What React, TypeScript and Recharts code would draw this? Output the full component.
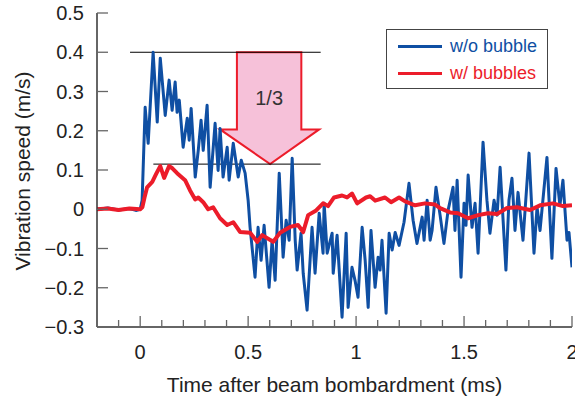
import React from 'react';
import { LineChart, Line, XAxis, YAxis, ReferenceLine, ReferenceArea, Label } from 'recharts';

// time (ms), vibration speed (m/s)
const withoutBubble: [number, number][] = [
  [-0.2, 0], [-0.15, 0.003], [-0.1, -0.002], [-0.05, 0.002], [-0.02, -0.003], [0, 0],
  [0.009, 0.023], [0.023, 0.26], [0.037, 0.168], [0.06, 0.4], [0.079, 0.222], [0.093, 0.385],
  [0.116, 0.239], [0.134, 0.329], [0.148, 0.252], [0.162, 0.324], [0.171, 0.247], [0.181, 0.278],
  [0.199, 0.158], [0.218, 0.232], [0.227, 0.176], [0.236, 0.257], [0.255, 0.082], [0.269, 0.15],
  [0.282, 0.227], [0.292, 0.15], [0.31, 0.265], [0.324, 0.056], [0.347, 0.219], [0.361, 0.099],
  [0.37, 0.206], [0.384, 0.082], [0.403, 0.158], [0.412, 0.074], [0.431, 0.168], [0.454, 0.082],
  [0.468, 0.125], [0.486, 0.092], [0.5, 0.023], [0.509, -0.046], [0.532, -0.173], [0.546, -0.046],
  [0.56, -0.13], [0.574, -0.041], [0.597, -0.199], [0.611, -0.079], [0.625, -0.181], [0.644, 0.092],
  [0.662, -0.122], [0.676, -0.028], [0.69, -0.079], [0.704, 0.13], [0.718, -0.079], [0.727, -0.155],
  [0.745, -0.061], [0.755, -0.163], [0.773, -0.257], [0.796, -0.046], [0.81, -0.163], [0.829, -0.01],
  [0.847, -0.112], [0.852, 0.015], [0.866, -0.112], [0.889, -0.061], [0.894, -0.163], [0.912, -0.066],
  [0.935, -0.275], [0.954, -0.061], [0.963, -0.25], [0.981, -0.148], [0.995, -0.181], [1.009, -0.224],
  [1.028, -0.046], [1.042, -0.13], [1.056, -0.25], [1.069, -0.054], [1.088, -0.199], [1.102, -0.122],
  [1.111, -0.155], [1.12, -0.079], [1.139, -0.265], [1.153, -0.061], [1.167, -0.104], [1.181, -0.059],
  [1.199, -0.092], [1.222, -0.033], [1.245, 0.066], [1.264, -0.028], [1.282, -0.087], [1.306, -0.02],
  [1.315, -0.079], [1.329, 0.023], [1.343, -0.079], [1.352, -0.054], [1.37, 0.056], [1.389, -0.015],
  [1.407, -0.087], [1.426, -0.003], [1.449, 0.056], [1.458, -0.054], [1.468, 0.074], [1.486, -0.173],
  [1.5, 0.015], [1.509, -0.041], [1.519, 0.087], [1.537, -0.046], [1.551, 0.015], [1.565, -0.112],
  [1.588, 0.171], [1.606, 0.023], [1.62, -0.061], [1.639, 0.023], [1.653, -0.015], [1.667, 0.107],
  [1.694, -0.155], [1.708, 0.023], [1.722, 0.079], [1.736, -0.054], [1.75, 0.043], [1.773, -0.079],
  [1.801, 0.143], [1.824, -0.112], [1.838, 0.005], [1.852, -0.054], [1.884, 0.132], [1.907, -0.125],
  [1.926, 0.104], [1.944, 0.01], [1.958, 0.074], [1.977, -0.079], [1.986, -0.059], [2.0, -0.148],
];

const withBubbles: [number, number][] = [
  [-0.2, 0], [-0.15, 0.002], [-0.1, -0.002], [-0.05, 0.002], [0, 0], [0.01, 0.005],
  [0.02, 0.03], [0.032, 0.056], [0.056, 0.07], [0.074, 0.09], [0.093, 0.11], [0.111, 0.08],
  [0.134, 0.11], [0.148, 0.105], [0.171, 0.092], [0.208, 0.074], [0.231, 0.048], [0.255, 0.025],
  [0.269, 0.03], [0.292, 0.018], [0.315, 0.0], [0.338, 0.005], [0.37, -0.023], [0.403, -0.04],
  [0.431, -0.033], [0.463, -0.058], [0.509, -0.06], [0.542, -0.083], [0.565, -0.066], [0.616, -0.083],
  [0.648, -0.06], [0.694, -0.045], [0.731, -0.04], [0.755, -0.058], [0.778, -0.015], [0.815, -0.003],
  [0.847, 0.015], [0.87, 0.008], [0.898, 0.03], [0.935, 0.035], [0.958, 0.03], [0.981, 0.04],
  [1.005, 0.015], [1.046, 0.03], [1.065, 0.033], [1.088, 0.022], [1.134, 0.03], [1.162, 0.018],
  [1.199, 0.03], [1.227, 0.02], [1.273, 0.01], [1.319, 0.015], [1.366, 0.012], [1.389, 0.003],
  [1.435, -0.008], [1.472, -0.01], [1.519, -0.023], [1.565, -0.015], [1.611, -0.01], [1.653, -0.012],
  [1.699, 0.003], [1.745, 0.005], [1.806, -0.002], [1.852, 0.01], [1.912, 0.015], [1.958, 0.008],
  [2.0, 0.01],
];

const timeTicks = [-0.2, -0.1, 0, 0.1, 0.2, 0.3, 0.4, 0.5, 0.6, 0.7, 0.8, 0.9, 1, 1.1, 1.2, 1.3, 1.4, 1.5, 1.6, 1.7, 1.8, 1.9, 2];
const labelledTimeTicks = [0, 0.5, 1, 1.5, 2];
const speedTicks = [-0.3, -0.2, -0.1, 0, 0.1, 0.2, 0.3, 0.4, 0.5];

// peak level lines and the "1/3" arrow, in data units
const peakLevels = [
  { y: 0.4, from: -0.047, to: 0.836 },
  { y: 0.115, from: 0.061, to: 0.836 },
];
const arrowBox = { x1: 0.37, x2: 0.829, y1: 0.115, y2: 0.4, text: '1/3' };

const series = [
  { name: 'w/o bubble', color: '#0f4fa3', width: 3, data: withoutBubble },
  { name: 'w/ bubbles', color: '#ec1c2a', width: 4, data: withBubbles },
];

const FONT = '"Liberation Sans", Arial, sans-serif';
const AXIS = '#333';
const TICK = '#666';

const fmtSpeed = (v: number) => (Math.abs(v) < 1e-9 ? '0' : v < 0 ? '\u2212' + Math.abs(v).toFixed(1) : v.toFixed(1));
const isMajor = (v: number) => labelledTimeTicks.some((m) => Math.abs(m - v) < 1e-6);

const BottomTick = (p: any) => {
  const v = p.payload.value;
  const major = isMajor(v);
  return (
    <g>
      <line x1={p.x} x2={p.x} y1={p.y} y2={p.y - (major ? 11 : 7)} stroke={TICK} strokeWidth={1.3} />
      {major && (
        <text x={p.x} y={p.y + 32} textAnchor="middle" fontSize={20} fill="#222" fontFamily={FONT}>
          {String(v)}
        </text>
      )}
    </g>
  );
};

const TopTick = (p: any) => {
  const major = isMajor(p.payload.value);
  return <line x1={p.x} x2={p.x} y1={p.y} y2={p.y + (major ? 11 : 7)} stroke={TICK} strokeWidth={1.3} />;
};

const LeftTick = (p: any) => (
  <g>
    <line x1={p.x} x2={p.x + 11} y1={p.y} y2={p.y} stroke={TICK} strokeWidth={1.3} />
    <text x={p.x - 13} y={p.y} dy="0.36em" textAnchor="end" fontSize={20} fill="#222" fontFamily={FONT}>
      {fmtSpeed(p.payload.value)}
    </text>
  </g>
);

const RightTick = (p: any) => <line x1={p.x} x2={p.x - 11} y1={p.y} y2={p.y} stroke={TICK} strokeWidth={1.3} />;

const ArrowShape = (p: any) => {
  const { x, y, width: w, height: h } = p;
  const sl = x + w * 0.17;
  const sr = x + w * 0.82;
  const hb = y + h * 0.69;
  const tip = x + w * 0.505;
  const pts = [
    [sl, y], [sr, y], [sr, hb], [x + w, hb], [tip, y + h], [x, hb], [sl, hb],
  ].map((q) => q.join(',')).join(' ');
  return (
    <g>
      <polygon points={pts} fill="#f6c1d9" stroke="#ec1c2a" strokeWidth={2} strokeLinejoin="miter" />
      <text x={(sl + sr) / 2} y={y + h * 0.41} dy="0.36em" textAnchor="middle" fontSize={20} fill="#333" fontFamily={FONT}>
        {arrowBox.text}
      </text>
    </g>
  );
};

export default function App() {
  return (
    <div style={{ position: 'absolute', left: 0, top: 0, width: 575, height: 398, background: '#fff' }}>
      <LineChart width={575} height={398} margin={{ top: 13, right: 3, bottom: 0, left: 0 }}>
        <XAxis
          xAxisId="b"
          type="number"
          dataKey="t"
          domain={[-0.2, 2]}
          ticks={timeTicks}
          interval={0}
          allowDataOverflow
          height={71}
          tickSize={0}
          tickMargin={0}
          tickLine={false}
          tick={<BottomTick />}
          axisLine={{ stroke: AXIS, strokeWidth: 1.5 }}
        >
          <Label
            content={(props: any) => {
              const vb = props.viewBox;
              return (
                <text x={vb.x + vb.width / 2} y={vb.y + 65} textAnchor="middle" fontSize={21} fill="#222" fontFamily={FONT}>
                  Time after beam bombardment (ms)
                </text>
              );
            }}
          />
        </XAxis>
        <XAxis
          xAxisId="top"
          orientation="top"
          type="number"
          dataKey="t"
          domain={[-0.2, 2]}
          ticks={timeTicks}
          interval={0}
          allowDataOverflow
          height={0}
          tickSize={0}
          tickMargin={0}
          tickLine={false}
          tick={<TopTick />}
          axisLine={{ stroke: AXIS, strokeWidth: 1.5 }}
        />
        <YAxis
          yAxisId="l"
          type="number"
          domain={[-0.3, 0.5]}
          ticks={speedTicks}
          interval={0}
          allowDataOverflow
          width={97}
          tickSize={0}
          tickMargin={0}
          tickLine={false}
          tick={<LeftTick />}
          axisLine={{ stroke: AXIS, strokeWidth: 1.5 }}
        >
          <Label
            content={(props: any) => {
              const vb = props.viewBox;
              const cy = vb.y + vb.height / 2 + 1;
              return (
                <text x={22} y={cy} transform={`rotate(-90 22 ${cy})`} dy="0.36em" textAnchor="middle" fontSize={21} fill="#222" fontFamily={FONT}>
                  Vibration speed (m/s)
                </text>
              );
            }}
          />
        </YAxis>
        <YAxis
          yAxisId="r"
          orientation="right"
          type="number"
          domain={[-0.3, 0.5]}
          ticks={speedTicks}
          interval={0}
          allowDataOverflow
          width={0}
          tickSize={0}
          tickMargin={0}
          tickLine={false}
          tick={<RightTick />}
          axisLine={{ stroke: AXIS, strokeWidth: 1.5 }}
        />
        {peakLevels.map((lv, i) => (
          <ReferenceLine
            key={i}
            xAxisId="b"
            yAxisId="l"
            segment={[{ x: lv.from, y: lv.y }, { x: lv.to, y: lv.y }]}
            stroke="#000"
            strokeWidth={1}
          />
        ))}
        <ReferenceArea
          xAxisId="b"
          yAxisId="l"
          x1={arrowBox.x1}
          x2={arrowBox.x2}
          y1={arrowBox.y1}
          y2={arrowBox.y2}
          shape={<ArrowShape />}
        />
        {series.map((s) => (
          <Line
            key={s.name}
            xAxisId="b"
            yAxisId="l"
            data={s.data.map(([t, v]) => ({ t, v }))}
            dataKey="v"
            name={s.name}
            type="linear"
            stroke={s.color}
            strokeWidth={s.width}
            strokeLinejoin="round"
            dot={false}
            activeDot={false}
            isAnimationActive={false}
          />
        ))}
      </LineChart>
      <div
        style={{
          position: 'absolute',
          left: 386,
          top: 29,
          width: 160,
          height: 58,
          border: '1.5px solid #444',
          background: '#fff',
          fontFamily: FONT,
          fontSize: 18,
          boxSizing: 'content-box',
        }}
      >
        {series.map((s, i) => (
          <div key={s.name} style={{ position: 'absolute', left: 11, top: 6 + i * 27, height: 20, display: 'flex', alignItems: 'center' }}>
            <span style={{ display: 'inline-block', width: 44, height: 3, background: s.color, marginRight: 8 }} />
            <span style={{ color: s.color, whiteSpace: 'nowrap' }}>{s.name}</span>
          </div>
        ))}
      </div>
    </div>
  );
}
